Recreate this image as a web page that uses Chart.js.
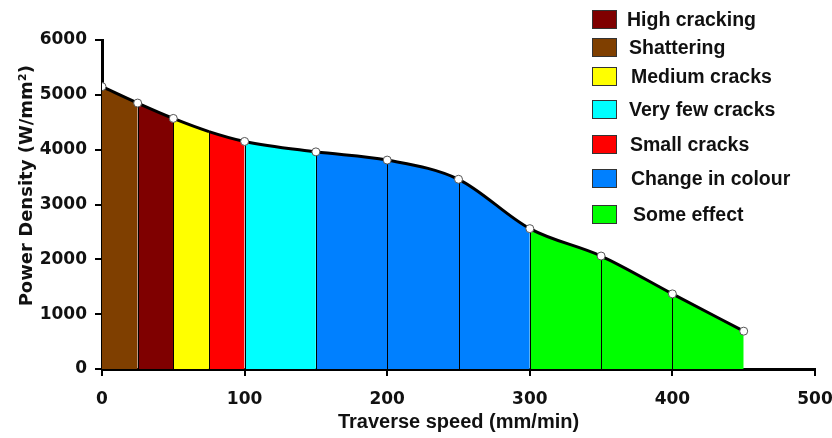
<!DOCTYPE html>
<html>
<head>
<meta charset="utf-8">
<script src="https://cdn.jsdelivr.net/npm/chart.js@4.4.1/dist/chart.umd.min.js"></script>
<style>
  html, body { margin: 0; padding: 0; background: #fff; }
  #wrap { position: relative; width: 832px; height: 438px; }
  #legend { position: absolute; left: 0; top: 0; font: bold 19.5px "Liberation Sans", Arial, sans-serif; color: #111; }
  .item { position: absolute; left: 592px; height: 19px; white-space: nowrap; }
  .box { position: absolute; left: 0; top: 0; width: 23px; height: 17px; border: 1px solid #333; }
  .lbl { position: absolute; top: 50%; transform: translateY(-50%); line-height: 1; }
</style>
</head>
<body>
<div id="wrap">
  <canvas id="chart" width="832" height="438"></canvas>
  <div id="legend"></div>
</div>
<script>
window.onload = function () {

    // traverse speed (mm/min) and power density (W/mm2)
    var speeds  = [0, 25, 50, 75, 100, 150, 200, 250, 300, 350, 400, 450];
    var density = [5150, 4850, 4570, 4330, 4150, 3960, 3810, 3460, 2560, 2060, 1370, 690];
    var unmarked = [75];

    // zones: upper speed limit of each coloured band
    var zoneEnds   = [25, 50, 75, 100, 150, 300, 450];
    var zoneColors = ['#7F3F00', '#7F0000', '#FFFF00', '#FF0000', '#00FFFF', '#0080FF', '#00FF00'];

    // legend order as in the figure
    var legendNames  = ['High cracking', 'Shattering', 'Medium cracks', 'Very few cracks', 'Small cracks', 'Change in colour', 'Some effect'];
    var legendColors = ['#7F0000', '#7F3F00', '#FFFF00', '#00FFFF', '#FF0000', '#0080FF', '#00FF00'];
    var legendTops   = [10, 38, 67, 100, 135, 169, 205];
    var legendTextX  = [35, 37, 39, 37, 38, 39, 41];

    var xTicks = [0, 100, 200, 300, 400, 500];
    var yTicks = [0, 1000, 2000, 3000, 4000, 5000, 6000];

    function zoneColor(x) {
        for (var i = 0; i < zoneEnds.length; i++) {
            if (x < zoneEnds[i]) return zoneColors[i];
        }
        return zoneColors[zoneColors.length - 1];
    }

    // thin black separators between bands, from the curve down to the axis
    var separators = {
        id: 'separators',
        beforeDatasetDraw: function (chart) {
            var meta = chart.getDatasetMeta(0);
            var ctx = chart.ctx;
            var base = chart.scales.y.getPixelForValue(0);
            ctx.save();
            ctx.strokeStyle = '#000';
            ctx.lineWidth = 1;
            meta.data.forEach(function (pt, i) {
                if (i === 0 || i === meta.data.length - 1) return;
                ctx.beginPath();
                ctx.moveTo(Math.round(pt.x) + 0.5, pt.y);
                ctx.lineTo(Math.round(pt.x) + 0.5, base);
                ctx.stroke();
            });
            ctx.restore();
        }
    };

    var tickFont   = { family: '"DejaVu Sans", Verdana, sans-serif', weight: 'bold', size: 17 };
    var xTitleFont = { family: '"Liberation Sans", Arial, sans-serif', weight: 'bold', size: 20 };
    var yTitleFont = { family: '"DejaVu Sans", Verdana, sans-serif', weight: 'bold', size: 18 };

    var ctx = document.getElementById('chart').getContext('2d');
    new Chart(ctx, {
        type: 'line',
        data: {
            datasets: [{
                data: speeds.map(function (s, i) { return { x: s, y: density[i] }; }),
                borderColor: '#000',
                borderWidth: 3,
                fill: 'origin',
                backgroundColor: zoneColors[0],
                cubicInterpolationMode: 'monotone',
                pointRadius: speeds.map(function (s) { return unmarked.indexOf(s) >= 0 ? 0 : 4; }),
                pointBackgroundColor: '#fff',
                pointBorderColor: '#555',
                pointBorderWidth: 1,
                segment: {
                    backgroundColor: function (c) { return zoneColor(c.p0.parsed.x); }
                }
            }]
        },
        plugins: [separators],
        options: {
            responsive: false,
            animation: false,
            layout: { padding: { left: 13, top: 40, right: 17, bottom: 0 } },
            plugins: { legend: { display: false }, tooltip: { enabled: false } },
            scales: {
                x: {
                    type: 'linear',
                    min: 0, max: 500,
                    afterBuildTicks: function (s) { s.ticks = xTicks.map(function (v) { return { value: v }; }); },
                    afterFit: function (s) { s.height = 69; s.paddingLeft = 0; s.paddingRight = 0; },
                    border: { display: true, color: '#000', width: 3 },
                    grid: { drawOnChartArea: false, drawTicks: true, tickLength: 7, color: '#000', lineWidth: 2 },
                    ticks: { color: '#111', font: tickFont, padding: 13, maxRotation: 0,
                             callback: function (v) { return String(v); } },
                    title: { display: true, text: 'Traverse speed (mm/min)', color: '#111', font: xTitleFont,
                             padding: { top: 4, bottom: 4 } }
                },
                y: {
                    min: 0, max: 6000,
                    afterBuildTicks: function (s) { s.ticks = yTicks.map(function (v) { return { value: v }; }); },
                    afterFit: function (s) { s.width = 89; s.paddingTop = 0; s.paddingBottom = 0; },
                    border: { display: true, color: '#000', width: 3 },
                    grid: { drawOnChartArea: false, drawTicks: true, tickLength: 7, color: '#000', lineWidth: 2 },
                    ticks: { color: '#111', font: tickFont, padding: 8,
                             callback: function (v) { return String(v); } },
                    title: { display: true, text: '\u00a0\u00a0\u00a0\u00a0\u00a0\u00a0Power Density (W/mm²)', color: '#111', font: yTitleFont,
                             padding: { top: 4, bottom: 4 } }
                }
            }
        }
    });

    // legend as positioned html
    var legend = document.getElementById('legend');
    legendNames.forEach(function (name, i) {
        var item = document.createElement('div');
        item.className = 'item';
        item.style.top = legendTops[i] + 'px';
        var box = document.createElement('div');
        box.className = 'box';
        box.style.background = legendColors[i];
        var lbl = document.createElement('div');
        lbl.className = 'lbl';
        lbl.style.left = legendTextX[i] + 'px';
        lbl.textContent = name;
        item.appendChild(box);
        item.appendChild(lbl);
        legend.appendChild(item);
    });
};
</script>
</body>
</html>
